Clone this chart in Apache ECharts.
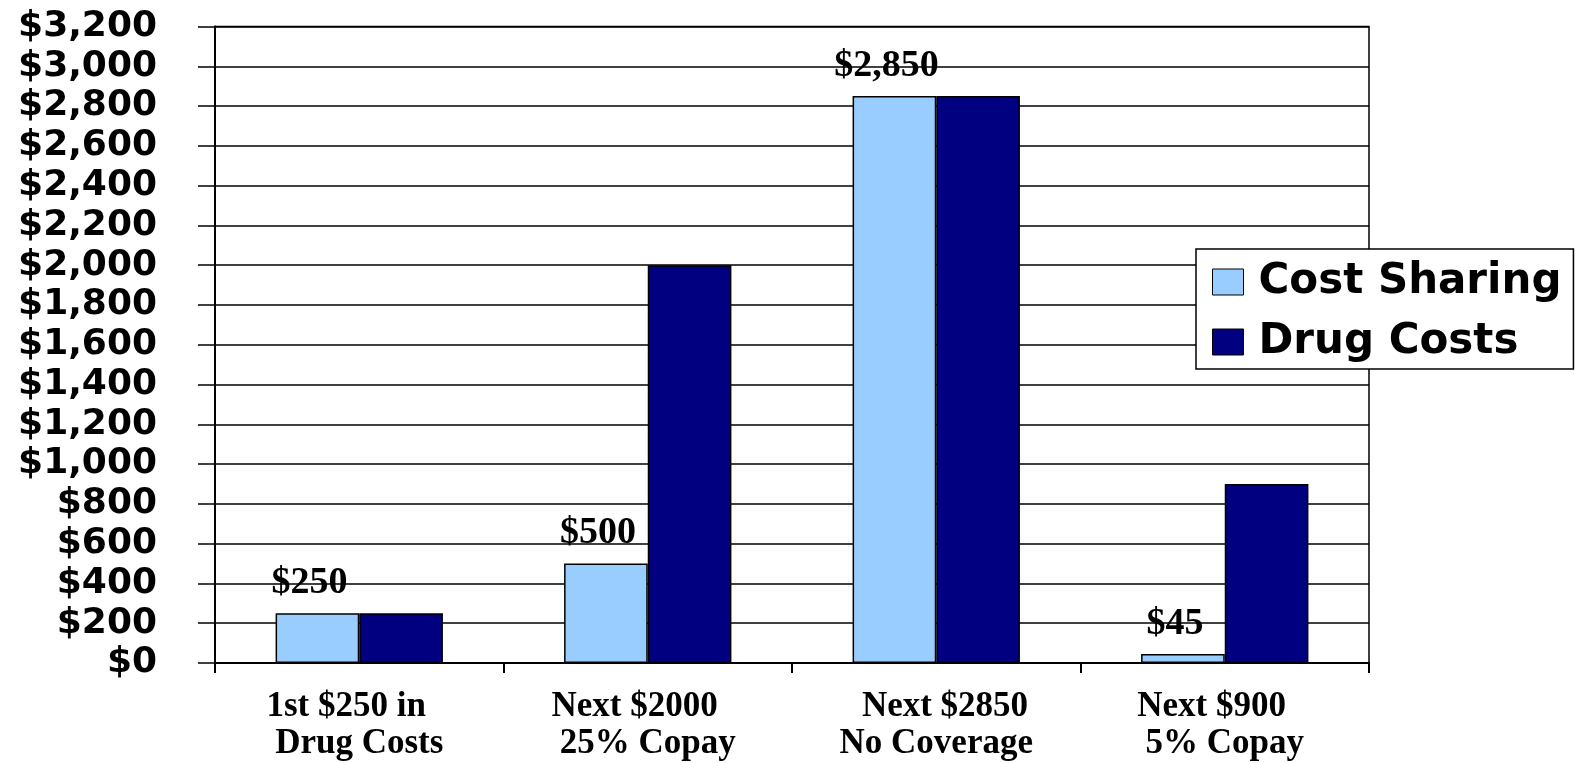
<!DOCTYPE html>
<html>
<head>
<meta charset="utf-8">
<script src="https://cdn.jsdelivr.net/npm/echarts@6/dist/echarts.min.js"></script>
<style>
html,body{margin:0;padding:0;background:#fff;}
#chart{width:1575px;height:763px;}
</style>
</head>
<body>
<div id="chart"></div>
<script>
const categories = ["1st $250 in   \nDrug Costs", "Next $2000   \n25% Copay", "  Next $2850\nNo Coverage", "Next $900   \n5% Copay"];
const costSharing = [250, 500, 2850, 45];
const drugCosts = [250, 2000, 2850, 900];
const seriesNames = ["Cost Sharing", "Drug Costs"];
const yMin = 0, yMax = 3200, yStep = 200;

const chart = echarts.init(document.getElementById('chart'));
chart.setOption({
  animation: false,
  backgroundColor: '#fff',
  grid: {left: 215, right: 206, top: 26.5, bottom: 100, show: true, borderColor: '#000', borderWidth: 1.5, backgroundColor: 'transparent', containLabel: false, outerBoundsMode: 'none'},
  legend: {
    orient: 'vertical', left: 1196, top: 249,
    padding: [11, 12, 5, 16],
    backgroundColor: '#fff', borderColor: '#000', borderWidth: 1.5,
    icon: 'rect',
    itemWidth: 31, itemHeight: 26, itemGap: 16,
    itemStyle: {borderColor: '#000', borderWidth: 1},
    textStyle: {fontFamily: 'DejaVu Sans', fontWeight: 'bold', fontSize: 42, color: '#000', lineHeight: 44, padding: [0,0,0,10]},
    data: seriesNames
  },
  xAxis: {
    type: 'category', data: categories, boundaryGap: true,
    axisLine: {lineStyle: {color: '#000', width: 2}},
    axisTick: {show: true, length: 10, lineStyle: {color: '#000', width: 2}},
    axisLabel: {margin: 25, fontFamily: 'Liberation Serif', fontWeight: 'bold', fontSize: 35, lineHeight: 37, color: '#000'}
  },
  yAxis: {
    type: 'value', min: yMin, max: yMax, interval: yStep,
    axisLine: {show: true, lineStyle: {color: '#000', width: 2}},
    axisTick: {show: true, length: 17, lineStyle: {color: '#000', width: 1.5}},
    splitLine: {lineStyle: {color: '#000', width: 1.5}},
    axisLabel: {margin: 58, fontFamily: 'DejaVu Sans', fontWeight: 'bold', fontSize: 36, color: '#000',
      formatter: v => '$' + v.toLocaleString('en-US')}
  },
  series: [
    {name: seriesNames[0], type: 'bar', data: costSharing, barGap: '0%', barCategoryGap: '42%',
     itemStyle: {color: '#99CCFF', borderColor: '#000', borderWidth: 1.5},
     label: {show: true, position: 'top', distance: 11, offset: [-8, 0], fontFamily: 'Liberation Serif', fontWeight: 'bold', fontSize: 38, color: '#000',
       formatter: p => '$' + p.value.toLocaleString('en-US')}},
    {name: seriesNames[1], type: 'bar', data: drugCosts, barGap: '0%', barCategoryGap: '42%',
     itemStyle: {color: '#000080', borderColor: '#000', borderWidth: 1.5}}
  ]
});
</script>
</body>
</html>
